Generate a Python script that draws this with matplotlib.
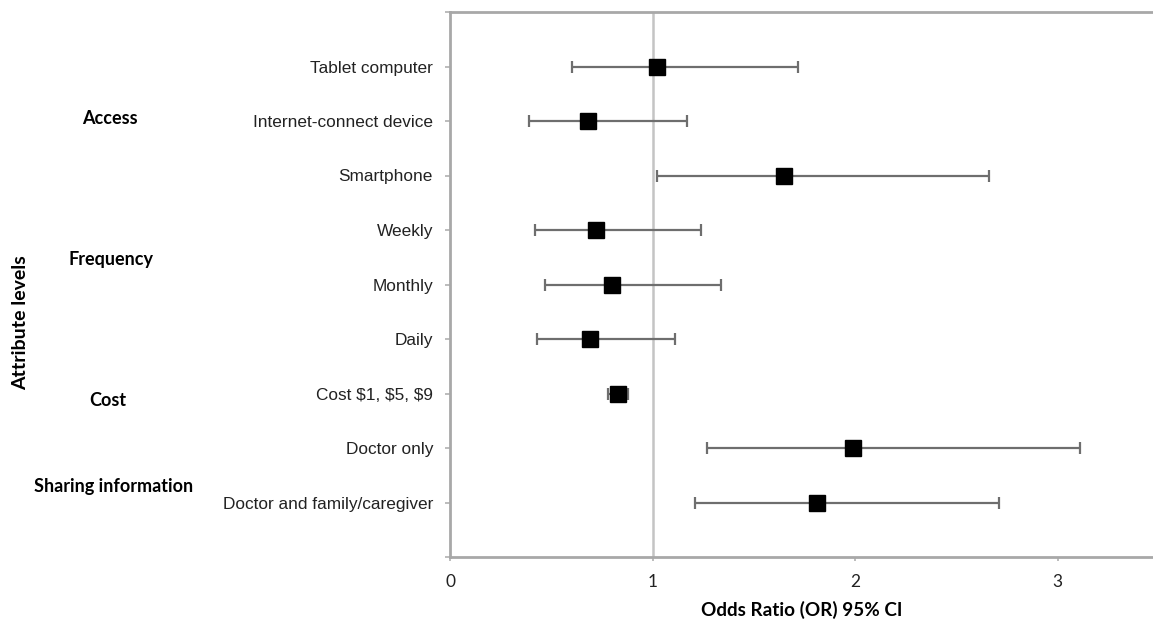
import numpy as np
import matplotlib.pyplot as plt
from matplotlib import transforms

# forest plot data, top to bottom
niveles = ['Tablet computer', 'Internet-connect device', 'Smartphone',
           'Weekly', 'Monthly', 'Daily', 'Cost $1, $5, $9',
           'Doctor only', 'Doctor and family/caregiver']
odds = [1.02, 0.68, 1.65, 0.72, 0.80, 0.69, 0.83, 1.99, 1.81]
ci_low = [0.60, 0.39, 1.02, 0.42, 0.47, 0.43, 0.78, 1.27, 1.21]
ci_high = [1.72, 1.17, 2.66, 1.24, 1.34, 1.11, 0.88, 3.11, 2.71]

grupos = ['Access', 'Frequency', 'Cost', 'Sharing information']
grupos_y = [8.05, 5.45, 2.88, 1.29]
grupos_x = [110, 111, 108, 114]  # centre in pixels

fig = plt.figure(figsize=(11.53, 6.23), dpi=100)
ax = fig.add_axes([450/1153, 66/623, 703/1153, 545/623])

y = np.arange(len(niveles), 0, -1)
odds = np.array(odds)
err = [odds - np.array(ci_low), np.array(ci_high) - odds]

ax.axvline(1, color='#c4c4c4', lw=1.8, zorder=1)
ax.errorbar(odds, y, xerr=err, fmt='none', ecolor='#6e6e6e', elinewidth=1.6,
            capsize=4, capthick=1.6, zorder=2)
ax.plot(odds, y, 's', color='black', ms=12, zorder=3)

ax.set_xlim(0, 703/202.5)
ax.set_ylim(0, 10)
ax.set_yticks(np.arange(0, 11))
ax.set_yticklabels([''] + niveles[::-1] + [''], fontsize=12.4,
                   family='Liberation Sans', color='#222222')
ax.set_xticks([0, 1, 2, 3])
ax.set_xticklabels(['0', '1', '2', '3'], fontsize=12.5, family='Lato',
                   color='#222222')
ax.tick_params(axis='y', length=3.6, color='#b0b0b0', width=1.2, pad=8.6)
ax.tick_params(axis='x', length=3, color='#b0b0b0', width=1.2, pad=9)

for s in ['left', 'bottom', 'top']:
    ax.spines[s].set_color('#a8a8a8')
    ax.spines[s].set_linewidth(2)
ax.spines['right'].set_visible(False)

ax.set_xlabel('Odds Ratio (OR) 95% CI', fontsize=13.6, family='Lato',
              fontweight='bold', labelpad=8)

trans = transforms.blended_transform_factory(fig.transFigure, ax.transData)
for g, gy, gx in zip(grupos, grupos_y, grupos_x):
    ax.text(gx/1153, gy, g, transform=trans, ha='center', va='center',
            fontsize=13, family='Lato', fontweight='bold')

fig.text(21/1153, 1 - 323/623, 'Attribute levels', rotation=90, ha='center',
         va='center', fontsize=14, family='Lato', fontweight='bold')

fig.savefig('out.png', dpi=100)
